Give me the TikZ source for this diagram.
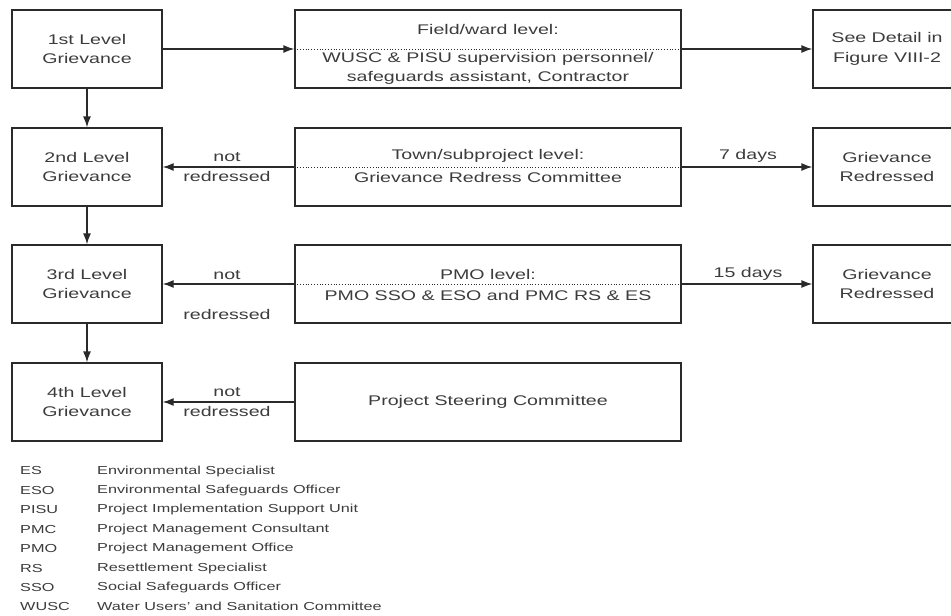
\documentclass[tikz,border=0pt]{standalone}
\usepackage{fontspec}
\setmainfont{Liberation Sans}[FakeStretch=1.4]
\usetikzlibrary{arrows.meta}
\definecolor{ln}{HTML}{2A2A2A}
\definecolor{tx}{HTML}{3C3C3C}
\begin{document}
\begin{tikzpicture}[x=1pt,y=-1pt,
  box/.style={draw=ln, line width=1.3pt, minimum width=#1, minimum height=78pt,
    inner sep=0pt, align=center, text=tx, font=\fontsize{14}{19.5}\selectfont},
  lbl/.style={inner sep=0pt, align=center, text=tx, font=\fontsize{14}{19.5}\selectfont},
  lgd/.style={inner sep=0pt, anchor=west, text=tx, font=\fontsize{11.6}{14}\selectfont},
  arr/.style={draw=ln, line width=1.3pt, -{Latex[length=11pt,width=8pt]}},
  dots/.style={draw=ln, line width=0.8pt, dotted}]
\useasboundingbox (0,0) rectangle (951,616);
% left column
\node[box=150] (l1) at (87,49) {1st Level\\Grievance};
\node[box=150] (l2) at (87,167) {2nd Level\\Grievance};
\node[box=150] (l3) at (87,284) {3rd Level\\Grievance};
\node[box=150] (l4) at (87,402) {4th Level\\Grievance};
% middle column
\node[box=386] (m1) at (488,49) {};
\node[box=386] (m2) at (488,167) {};
\node[box=386] (m3) at (488,284) {};
\node[box=386] (m4) at (488,402) {Project Steering Committee};
% right column
\node[box=148] (r1) at (887,49) {See Detail in\\Figure VIII-2};
\node[box=148] (r2) at (887,167) {Grievance\\Redressed};
\node[box=148] (r3) at (887,284) {Grievance\\Redressed};
% dotted lines in middle boxes
\draw[dots] (m1.west) -- (m1.east);
\draw[dots] (m2.west) -- (m2.east);
\draw[dots] (m3.west) -- (m3.east);
% middle box texts
\node[lbl] (m1a) at (488,29) {Field/ward level:};
\node[lbl] (m1b) at (488,68.5) {WUSC \& PISU supervision personnel/\\safeguards assistant, Contractor};
\node[lbl] (m2a) at (488,156) {Town/subproject level:};
\node[lbl] (m2b) at (488,177) {Grievance Redress Committee};
\node[lbl] (m3a) at (488,274) {PMO level:};
\node[lbl] (m3b) at (488,295) {PMO SSO \& ESO and PMC RS \& ES};
% arrows
\draw[arr] (l1.east) -- (m1.west);
\draw[arr] (m1.east) -- (r1.west);
\draw[arr] (m2.west) -- (l2.east);
\draw[arr] (m2.east) -- (r2.west);
\draw[arr] (m3.west) -- (l3.east);
\draw[arr] (m3.east) -- (r3.west);
\draw[arr] (m4.west) -- (l4.east);
\draw[arr] (l1.south) -- (l2.north);
\draw[arr] (l2.south) -- (l3.north);
\draw[arr] (l3.south) -- (l4.north);
% arrow labels
\node[lbl] (n2) at (227,167) {not\\redressed};
\node[lbl] (n3a) at (227,275) {not};
\node[lbl] (n3b) at (227,314) {redressed};
\node[lbl] (n4) at (227,402) {not\\redressed};
\node[lbl] (d7) at (748,156) {7 days};
\node[lbl] (d15) at (748,274) {15 days};
% legend
\foreach \i/\a/\d in {0/ES/Environmental Specialist,
  1/ESO/Environmental Safeguards Officer,
  2/PISU/Project Implementation Support Unit,
  3/PMC/Project Management Consultant,
  4/PMO/Project Management Office,
  5/RS/Resettlement Specialist,
  6/SSO/Social Safeguards Officer,
  7/WUSC/Water Users' and Sanitation Committee}{
  \node[lgd] (ab\i) at (20,471+19.4*\i) {\a};
  \node[lgd] (de\i) at (97,471+19.4*\i) {\d};
}
\end{tikzpicture}
\end{document}
